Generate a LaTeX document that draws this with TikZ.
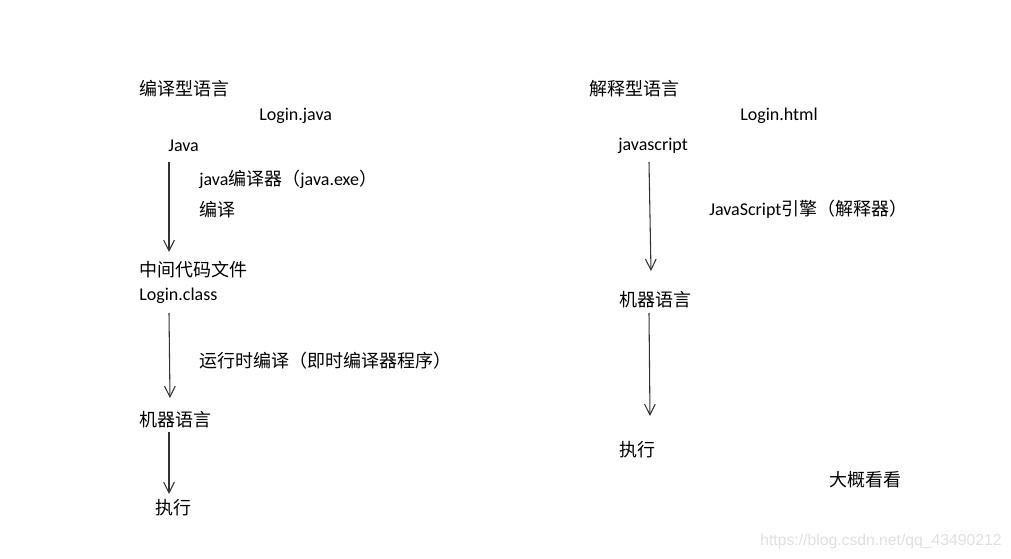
\documentclass[tikz,border=0pt]{standalone}
\usepackage{fontspec}
\setmainfont{Carlito}
\newfontfamily\cjk{Noto Sans CJK SC}
\newfontfamily\wmfont{Liberation Sans}
\usetikzlibrary{arrows.meta}
\begin{document}
\begin{tikzpicture}[x=0.75pt,y=-0.75pt,
  lbl/.style={anchor=west,inner sep=0pt,font=\fontsize{13.5pt}{16pt}\selectfont},
  flow/.style={draw=black!80,line width=0.8pt,-{Straight Barb[length=8pt,width=8pt,line width=0.8pt]}},
  wm/.style={anchor=east,inner sep=0pt,text=black!12,font=\wmfont\fontsize{11.8pt}{14pt}\selectfont}]
\useasboundingbox[fill=white] (0,0) rectangle (1011,559);
% left column
\node[lbl] (ctitle) at (139,89) {\cjk 编译型语言};
\node[lbl] (ljava) at (259,116) {Login.java};
\node[lbl] (java) at (168,146) {Java};
\node[lbl] (javac) at (199,179) {java{\cjk 编译器（}java.exe{\cjk ）}};
\node[lbl] (compile) at (199,210) {\cjk 编译};
\node[lbl] (mid) at (139,270) {\cjk 中间代码文件};
\node[lbl] (lclass) at (139,296) {Login.class};
\node[lbl] (jit) at (199,361) {\cjk 运行时编译（即时编译器程序）};
\node[lbl] (mach1) at (139,420) {\cjk 机器语言};
\node[lbl] (exec1) at (155,508) {\cjk 执行};
\coordinate (a1s) at (169,162);
\coordinate (a1e) at (169,252);
\coordinate (a2s) at (169,313);
\coordinate (a2e) at (170,398);
\coordinate (a3s) at (169,432);
\coordinate (a3e) at (169,494);
\draw[flow] (a1s) -- (a1e);
\draw[flow] (a2s) -- (a2e);
\draw[flow] (a3s) -- (a3e);
% right column
\node[lbl] (ititle) at (589,89) {\cjk 解释型语言};
\node[lbl] (lhtml) at (740,116) {Login.html};
\node[lbl] (js) at (618,146) {javascript};
\node[lbl] (engine) at (709,209) {JavaScript{\cjk 引擎（解释器）}};
\node[lbl] (mach2) at (619,300) {\cjk 机器语言};
\node[lbl] (exec2) at (619,450) {\cjk 执行};
\node[lbl] (glance) at (829,480) {\cjk 大概看看};
\coordinate (b1s) at (649,162);
\coordinate (b1e) at (651,271);
\coordinate (b2s) at (649,313);
\coordinate (b2e) at (650,416);
\draw[flow] (b1s) -- (b1e);
\draw[flow] (b2s) -- (b2e);
% watermark
\node[wm] (mark) at (1002,541) {https://blog.csdn.net/qq\_43490212};
\end{tikzpicture}
\end{document}
